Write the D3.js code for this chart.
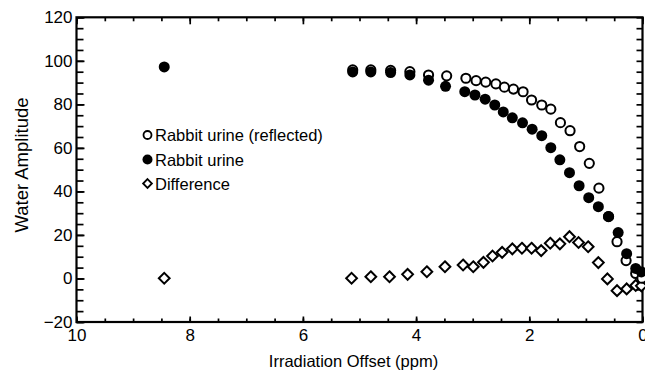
<!DOCTYPE html>
<html><head><meta charset="utf-8">
<script src="https://cdn.jsdelivr.net/npm/d3@7"></script>
<style>
html,body{margin:0;padding:0;background:#fff;}
svg text{font-family:"Liberation Sans",Arial,Helvetica,sans-serif;fill:#000;}
</style></head>
<body><svg id="chart" width="645" height="373"></svg>
<script>
// ---- data ----
const urineX = [8.45,5.12,4.80,4.45,4.11,3.78,3.48,3.14,2.96,2.78,2.61,2.46,2.30,2.12,1.95,1.78,1.62,1.46,1.29,1.12,0.95,0.78,0.60,0.43,0.28,0.12,0.02];
const urineY = [97.2,94.9,94.9,94.6,93.5,91.1,88.3,85.8,84.3,82.4,79.7,76.5,73.8,71.5,68.6,65.6,60.1,54.5,48.6,42.6,37.1,33.0,28.5,21.1,11.4,4.6,3.0];
const reflX = [5.12,4.80,4.45,4.11,3.78,3.46,3.12,2.94,2.77,2.59,2.44,2.28,2.11,1.96,1.78,1.62,1.45,1.28,1.11,0.94,0.77,0.60,0.45,0.29,0.12,0.01];
const reflY = [95.8,95.8,95.6,95.0,93.5,93.1,92.0,90.9,90.2,89.4,87.9,87.0,85.8,82.0,79.7,77.8,71.6,67.9,60.6,52.9,41.5,28.4,16.9,8.2,2.3,0.1];
const diffX = [8.45,5.14,4.80,4.47,4.15,3.81,3.49,3.17,2.99,2.81,2.65,2.48,2.30,2.13,1.96,1.79,1.63,1.46,1.29,1.13,0.96,0.78,0.62,0.45,0.28,0.12,0.02];
const diffY = [0.1,0.1,0.8,0.8,1.9,3.1,5.4,6.2,5.4,7.4,10.3,12.0,13.6,13.9,13.9,12.8,16.2,15.9,19.2,16.5,14.6,7.3,-0.2,-5.6,-4.8,-3.2,-3.4];
const legendLabels = ["Rabbit urine (reflected)","Rabbit urine","Difference"];
const xMajorTicks = [10,8,6,4,2,0];
const yMajorTicks = [-20,0,20,40,60,80,100,120];
const xTitle = "Irradiation Offset (ppm)";
const yTitle = "Water Amplitude";

// ---- layout ----
const svg = d3.select("#chart");
const L = 76.5, R = 642.5, T = 17.3, B = 322;
const x = d3.scaleLinear().domain([10,0]).range([L,R]);
const y = d3.scaleLinear().domain([-20,120]).range([B,T]);

const xMinor = d3.range(0,10.01,0.5);
const yMinor = d3.range(-20,120.01,5);

function styleAxis(g){
  g.select(".domain").remove();
  g.selectAll("line").attr("stroke","#000").attr("stroke-width",1.7);
  g.selectAll("text").style("font-size","17px").attr("fill","#000");
}
// bottom
svg.append("g").attr("transform",`translate(0,${B})`)
  .call(d3.axisBottom(x).tickValues(xMinor).tickSize(-3.5).tickFormat("")).call(styleAxis);
svg.append("g").attr("transform",`translate(0,${B})`)
  .call(d3.axisBottom(x).tickValues(xMajorTicks).tickSize(-5.5).tickPadding(7).tickFormat(d3.format("d"))).call(styleAxis);
// top
svg.append("g").attr("transform",`translate(0,${T})`)
  .call(d3.axisTop(x).tickValues(xMinor).tickSize(-4).tickFormat("")).call(styleAxis);
svg.append("g").attr("transform",`translate(0,${T})`)
  .call(d3.axisTop(x).tickValues(xMajorTicks).tickSize(-7).tickFormat("")).call(styleAxis);
// left
svg.append("g").attr("transform",`translate(${L},0)`)
  .call(d3.axisLeft(y).tickValues(yMinor).tickSize(-7).tickFormat("")).call(styleAxis);
svg.append("g").attr("transform",`translate(${L},0)`)
  .call(d3.axisLeft(y).tickValues(yMajorTicks).tickSize(-8).tickPadding(4).tickFormat(d=>d<0?"\u2212"+Math.abs(d):d)).call(styleAxis);
// right
svg.append("g").attr("transform",`translate(${R},0)`)
  .call(d3.axisRight(y).tickValues(yMinor).tickSize(-6).tickFormat("")).call(styleAxis);

// frame
svg.append("rect").attr("x",L).attr("y",T).attr("width",R-L).attr("height",B-T)
  .attr("fill","none").attr("stroke","#000").attr("stroke-width",2.2);

// titles
svg.append("text").attr("x",(L+R)/2-6).attr("y",367).attr("text-anchor","middle")
  .style("font-size","16.5px").text(xTitle);
svg.append("text").attr("transform",`translate(28,165) rotate(-90)`).attr("text-anchor","middle")
  .style("font-size","18.5px").text(yTitle);

// marks
const plot = svg.append("g");
const diamond = (r)=>`M0,${-r}L${r},0L0,${r}L${-r},0Z`;

plot.selectAll(".diff").data(d3.zip(diffX,diffY)).join("path")
  .attr("transform",d=>`translate(${x(d[0])},${y(d[1])})`)
  .attr("d",diamond(5.4)).attr("fill","#fff").attr("stroke","#000").attr("stroke-width",2);
plot.selectAll(".refl").data(d3.zip(reflX,reflY)).join("circle")
  .attr("cx",d=>x(d[0])).attr("cy",d=>y(d[1])).attr("r",4.6)
  .attr("fill","#fff").attr("stroke","#000").attr("stroke-width",2);
plot.selectAll(".urine").data(d3.zip(urineX,urineY)).join("circle")
  .attr("cx",d=>x(d[0])).attr("cy",d=>y(d[1])).attr("r",5.5).attr("fill","#000");

// legend
const lg = svg.append("g");
const rows = [135,159.5,183.5];
legendLabels.forEach((lab,i)=>{
  const cy = rows[i];
  if(i===0) lg.append("circle").attr("cx",147.5).attr("cy",cy).attr("r",4).attr("fill","#fff").attr("stroke","#000").attr("stroke-width",1.8);
  if(i===1) lg.append("circle").attr("cx",147.5).attr("cy",cy).attr("r",5).attr("fill","#000");
  if(i===2) lg.append("path").attr("transform",`translate(147.5,${cy})`).attr("d",diamond(4.4)).attr("fill","#fff").attr("stroke","#000").attr("stroke-width",1.8);
  lg.append("text").attr("x",155).attr("y",cy+6).style("font-size","16.5px").text(lab);
});
</script></body></html>
